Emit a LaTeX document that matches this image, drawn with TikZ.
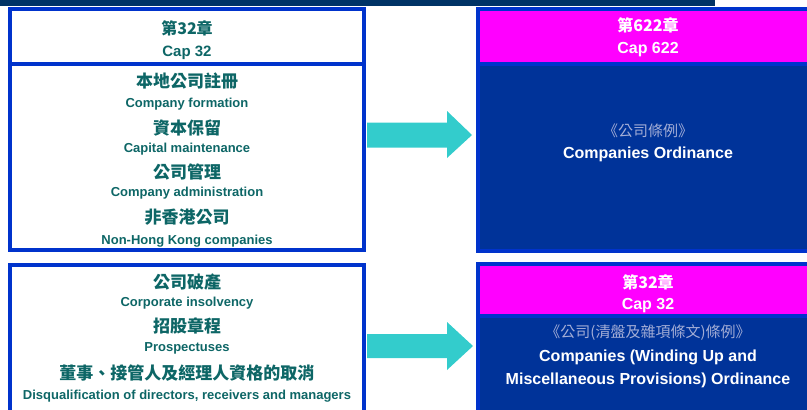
\documentclass[tikz,border=0pt]{standalone}
\usepackage{fontspec}
\setmainfont{Liberation Sans}
\newfontfamily\cjk{Noto Sans CJK TC}
\definecolor{topbar}{HTML}{003366}
\definecolor{bord}{HTML}{0033CC}
\definecolor{mag}{HTML}{FF00FF}
\definecolor{navy}{HTML}{003399}
\definecolor{teal}{HTML}{33CCCC}
\definecolor{txt}{HTML}{0D6666}
\definecolor{lighttxt}{HTML}{A3ADD6}
\tikzset{
  boxline/.style={draw=bord, line width=4pt},
  zh/.style={font=\cjk\bfseries\fontsize{17}{20}\selectfont, text=txt, inner sep=0pt},
  en/.style={font=\bfseries\fontsize{13}{15}\selectfont, text=txt, inner sep=0pt},
  hzh/.style={font=\cjk\bfseries\fontsize{16}{19}\selectfont, inner sep=0pt},
  hen/.style={font=\bfseries\fontsize{16}{19}\selectfont, inner sep=0pt},
  lzh/.style={font=\cjk\fontsize{15}{18}\selectfont, text=lighttxt, inner sep=0pt},
  wen/.style={font=\bfseries\fontsize{16}{19}\selectfont, text=white, inner sep=0pt},
  arrowfill/.style={fill=teal},
}
\begin{document}
\begin{tikzpicture}[x=1pt,y=-1pt]
\useasboundingbox (0,0) rectangle (807,410);
% top bar
\fill[topbar] (0,0) rectangle (715,6);
% left top boxes
\draw[boxline] (9.5,9) rectangle (364,64);
\draw[boxline] (9.5,64) rectangle (364,250);
% right top box
\fill[navy] (478,9) rectangle (830,251);
\fill[mag] (478,9) rectangle (830,64);
\draw[boxline] (478,9) rectangle (830,64);
\draw[boxline] (478,64) rectangle (830,251);
% bottom left box
\draw[boxline] (9.5,265) rectangle (364,430);
% bottom right box
\fill[navy] (478,264) rectangle (830,430);
\fill[mag] (478,264) rectangle (830,316);
\draw[boxline] (478,264) rectangle (830,316);
\draw[boxline] (478,316) rectangle (830,430);
% arrows
\fill[arrowfill] (367,122.5) -- (447,122.5) -- (447,111) -- (472,135) -- (447,158) -- (447,147.5) -- (367,147.5) -- cycle;
\fill[arrowfill] (367,334) -- (447,334) -- (447,322) -- (473,346) -- (447,370) -- (447,358) -- (367,358) -- cycle;
% left top texts
\node[hzh, text=txt] (lt1) at (187,28.5) {第32章};
\node[en, font=\bfseries\fontsize{15}{17}\selectfont] (lt2) at (187,53) {Cap 32};
\node[zh] (l1) at (187,80.5) {本地公司註冊};
\node[en] (l2) at (187,104) {Company formation};
\node[zh] (l3) at (187,127.5) {資本保留};
\node[en] (l4) at (187,149) {Capital maintenance};
\node[zh] (l5) at (187,171.5) {公司管理};
\node[en] (l6) at (187,193) {Company administration};
\node[zh] (l7) at (187,217.5) {非香港公司};
\node[en] (l8) at (187,241) {Non-Hong Kong companies};
% bottom left texts
\node[zh] (b1) at (187,282.5) {公司破產};
\node[en] (b2) at (187,303) {Corporate insolvency};
\node[zh] (b3) at (187,325.5) {招股章程};
\node[en] (b4) at (187,348) {Prospectuses};
\node[zh] (b5) at (187,373.5) {董事、接管人及經理人資格的取消};
\node[en] (b6) at (187,396) {Disqualification of directors, receivers and managers};
% right top texts
\node[hzh, text=white] (rt1) at (648,25.5) {第622章};
\node[hen, text=white] (rt2) at (648,49.5) {Cap 622};
\node[lzh] (rt3) at (648,130.5) {《公司條例》};
\node[wen] (rt4) at (648,154.5) {Companies Ordinance};
% bottom right texts
\node[hzh, text=white] (rb1) at (648,282.5) {第32章};
\node[hen, text=white] (rb2) at (648,305.5) {Cap 32};
\node[lzh] (rb3) at (648,332.5) {《公司(清盤及雜項條文)條例》};
\node[wen] (rb4) at (648,357.5) {Companies (Winding Up and};
\node[wen] (rb5) at (648,380.5) {Miscellaneous Provisions) Ordinance};
\end{tikzpicture}
\end{document}
